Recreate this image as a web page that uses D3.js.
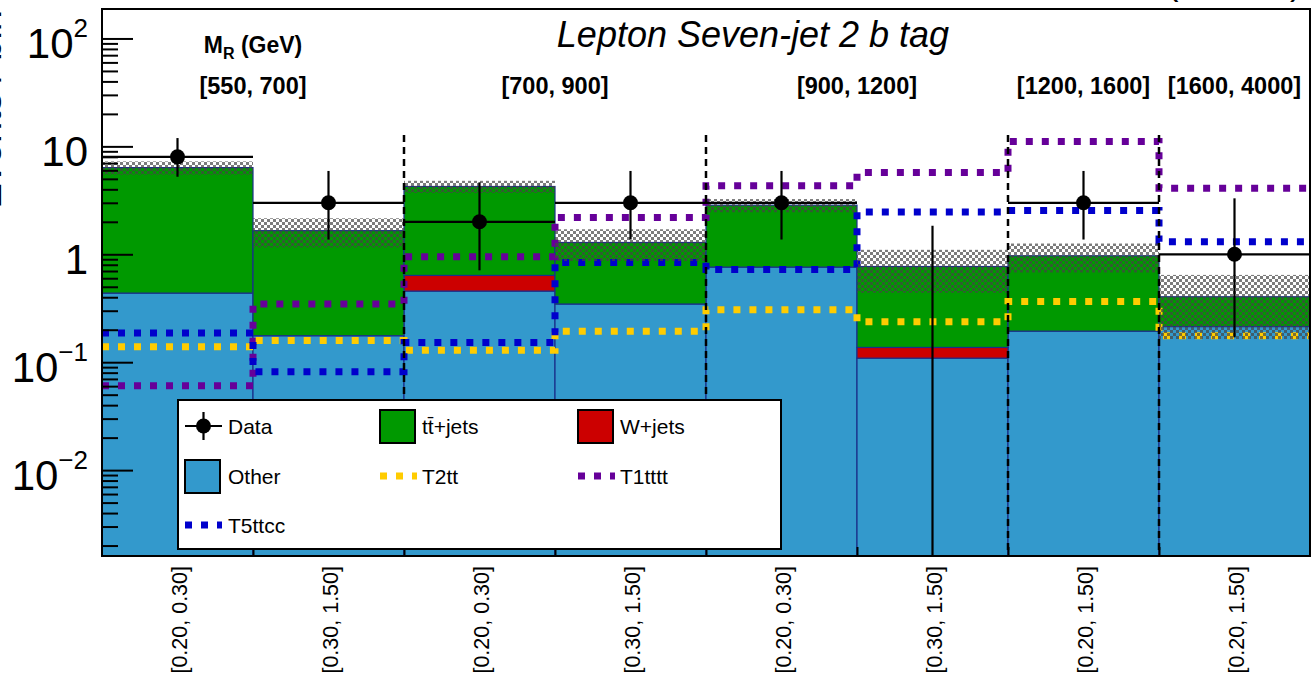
<!DOCTYPE html>
<html>
  <head>
    <meta charset="utf-8">
    <title>Lepton Seven-jet 2 b tag</title>
    <script src="https://d3js.org/d3.v7.min.js"></script>
    <style>
    body { margin: 0; background: #fff; }
    text { font-family: "Liberation Sans", Arial, Helvetica, sans-serif; }
    .frame { fill: none; stroke: #000; stroke-width: 2px; }
    .y-axis path, .x-axis path { display: none; }
    .y-axis line, .x-axis line { stroke: #000; stroke-width: 2px; }
    </style>
  </head>
  <body>
    <script>
      // ====================================
      // Data
      // ====================================
      const binLabels = ["[0.20, 0.30]", "[0.30, 1.50]", "[0.20, 0.30]", "[0.30, 1.50]",
                         "[0.20, 0.30]", "[0.30, 1.50]", "[0.20, 1.50]", "[0.20, 1.50]"];
      const mrEdges = [0, 2, 4, 6, 7, 8];          // bin index where each M_R range starts/ends
      const mrLabels = ["[550, 700]", "[700, 900]", "[900, 1200]", "[1200, 1600]", "[1600, 4000]"];

      const other = [0.437, 0.176, 0.456, 0.346, 0.761, 0.109, 0.194, 0.214];
      const wjets = [0, 0, 0.181, 0, 0, 0.028, 0, 0];
      const ttbar = [5.92, 1.48, 3.61, 0.94, 2.09, 0.633, 0.774, 0.19];
      const bkgUnc = [0.9, 0.5, 0.55, 0.42, 0.4, 0.33, 0.29, 0.24];

      const data = [8, 3, 2, 3, 3, 0, 3, 1];
      const dataHi = [11.94, 5.92, 4.64, 5.92, 5.92, 1.84, 5.92, 3.30];
      const dataLo = [5.23, 1.37, 0.71, 1.37, 1.37, 0, 1.37, 0.17];

      const t2tt = [0.139, 0.159, 0.129, 0.194, 0.306, 0.237, 0.365, 0.176];
      const t1tttt = [0.0606, 0.346, 0.948, 2.19, 4.31, 5.72, 11.1, 4.1];
      const t5ttcc = [0.186, 0.0817, 0.152, 0.84, 0.723, 2.46, 2.55, 1.31];

      const majorTicks = [0.01, 0.1, 1, 10, 100];

      // ====================================
      // Layout
      // ====================================
      const width = 1311, height = 678;
      const padL = 102, padR = 1310, padT = 9, padB = 556;
      const yMin = 0.0016, yMax = 187.5;

      const colors = {
        other: "#3399cc", wjets: "#cc0000", ttbar: "#009900",
        t2tt: "#ffcc00", t1tttt: "#660099", t5ttcc: "#0000cc", edge: "#1a2f8a"
      };

      const svg = d3.select("body").append("svg")
          .attr("width", width)
          .attr("height", height);

      const defs = svg.append("defs");
      defs.append("clipPath").attr("id", "plot-clip")
        .append("rect")
          .attr("x", padL).attr("y", padT)
          .attr("width", padR - padL).attr("height", padB - padT);

      // checkered hatch for the background uncertainty
      const pat = defs.append("pattern")
          .attr("id", "hatch")
          .attr("patternUnits", "userSpaceOnUse")
          .attr("width", 6).attr("height", 6);
      pat.append("rect").attr("x", 0).attr("y", 0).attr("width", 3).attr("height", 3)
          .attr("fill", "#444").attr("fill-opacity", 0.7);
      pat.append("rect").attr("x", 3).attr("y", 3).attr("width", 3).attr("height", 3)
          .attr("fill", "#444").attr("fill-opacity", 0.7);

      const x = d3.scaleLinear().domain([0, binLabels.length]).range([padL, padR]);
      const y = d3.scaleLog().domain([yMin, yMax]).range([padB, padT]);
      const bw = x(1) - x(0);

      const plot = svg.append("g").attr("clip-path", "url(#plot-clip)");

      // ==================
      // Stacked backgrounds
      // ==================
      const stack = binLabels.map(function(d, i) {
        return {
          i: i,
          other: other[i],
          w: other[i] + wjets[i],
          total: other[i] + wjets[i] + ttbar[i]
        };
      });

      function drawLayer(lo, hi, color) {
        plot.append("g").selectAll("rect")
          .data(stack.filter(function(d) { return hi(d) > lo(d); }))
          .enter().append("rect")
            .attr("x", function(d) { return x(d.i); })
            .attr("width", bw)
            .attr("y", function(d) { return y(hi(d)); })
            .attr("height", function(d) { return y(lo(d)) - y(hi(d)); })
            .attr("fill", color)
            .attr("stroke", colors.edge)
            .attr("stroke-width", 1.2);
      }
      drawLayer(function() { return yMin; }, function(d) { return d.other; }, colors.other);
      drawLayer(function(d) { return d.other; }, function(d) { return d.w; }, colors.wjets);
      drawLayer(function(d) { return d.w; }, function(d) { return d.total; }, colors.ttbar);

      // ==================
      // Signal step histograms
      // ==================
      const stepLine = d3.line()
          .x(function(d) { return x(d[0]); })
          .y(function(d) { return y(d[1]); })
          .curve(d3.curveStepAfter);

      function drawSignal(vals, color) {
        const pts = vals.map(function(v, i) { return [i, v]; });
        pts.push([vals.length, vals[vals.length - 1]]);
        plot.append("path")
          .attr("d", stepLine(pts))
          .attr("fill", "none")
          .attr("stroke", color)
          .attr("stroke-width", 7)
          .attr("stroke-dasharray", "7,9");
      }
      drawSignal(t1tttt, colors.t1tttt);
      drawSignal(t2tt, colors.t2tt);
      drawSignal(t5ttcc, colors.t5ttcc);

      // uncertainty band
      plot.append("g").selectAll("rect")
        .data(stack)
        .enter().append("rect")
          .attr("x", function(d) { return x(d.i); })
          .attr("width", bw)
          .attr("y", function(d) { return y(d.total + bkgUnc[d.i]); })
          .attr("height", function(d) {
            return y(Math.max(d.total - bkgUnc[d.i], yMin)) - y(d.total + bkgUnc[d.i]);
          })
          .attr("fill", "url(#hatch)");

      // ==================
      // Data points
      // ==================
      const pts = plot.append("g");
      data.forEach(function(v, i) {
        const cx = x(i + 0.5);
        pts.append("line")
          .attr("x1", cx).attr("x2", cx)
          .attr("y1", y(dataHi[i]))
          .attr("y2", dataLo[i] > 0 ? y(dataLo[i]) : padB + 5)
          .attr("stroke", "#000").attr("stroke-width", 2.2);
        if (v > 0) {
          pts.append("line")
            .attr("x1", x(i)).attr("x2", x(i + 1))
            .attr("y1", y(v)).attr("y2", y(v))
            .attr("stroke", "#000").attr("stroke-width", 2.2);
          pts.append("circle")
            .attr("cx", cx).attr("cy", y(v)).attr("r", 7.5)
            .attr("fill", "#000");
        }
      });

      // M_R separators
      plot.append("g").selectAll("line")
        .data(mrEdges.slice(1, -1))
        .enter().append("line")
          .attr("x1", function(d) { return x(d); })
          .attr("x2", function(d) { return x(d); })
          .attr("y1", 135).attr("y2", padB)
          .attr("stroke", "#000").attr("stroke-width", 2.5)
          .attr("stroke-dasharray", "7,5");

      // ==================
      // Axes
      // ==================
      const minorTicks = [];
      for (let e = -3; e <= 2; e++) {
        for (let m = 2; m <= 9; m++) {
          const v = m * Math.pow(10, e);
          if (v > yMin && v < yMax) minorTicks.push(v);
        }
      }

      svg.append("g")
          .attr("class", "y-axis")
          .attr("transform", "translate(" + padL + ",0)")
          .call(d3.axisLeft(y).tickValues(minorTicks).tickSize(-16).tickFormat(""));

      const yAxis = svg.append("g")
          .attr("class", "y-axis")
          .attr("transform", "translate(" + padL + ",0)")
          .call(d3.axisLeft(y).tickValues(majorTicks).tickSize(-31).tickPadding(14).tickFormat(""));

      yAxis.selectAll(".tick text")
          .attr("font-size", 42)
          .attr("fill", "#000")
          .attr("dy", "0.45em")
          .each(function(d) {
            const t = d3.select(this);
            const e = Math.round(Math.log10(d));
            if (e === 0) { t.text("1"); return; }
            if (e === 1) { t.text("10"); return; }
            t.append("tspan").text("10");
            t.append("tspan")
              .attr("font-size", 26)
              .attr("dy", -21)
              .text(e < 0 ? "\u2212" + (-e) : String(e));
          });

      // bin edge ticks along the bottom
      svg.append("g")
          .attr("class", "x-axis")
          .attr("transform", "translate(0," + padB + ")")
          .call(d3.axisBottom(x).tickValues(d3.range(1, binLabels.length)).tickSize(-9).tickFormat(""));

      // rotated bin labels
      svg.append("g").selectAll("text")
        .data(binLabels)
        .enter().append("text")
          .attr("transform", function(d, i) {
            return "translate(" + (x(i + 0.5) + 2) + ",566) rotate(-90)";
          })
          .attr("text-anchor", "end")
          .attr("dy", "0.35em")
          .attr("font-size", 21.5)
          .text(function(d) { return d; });

      // frame
      svg.append("rect")
          .attr("class", "frame")
          .attr("x", padL).attr("y", padT)
          .attr("width", padR - padL).attr("height", padB - padT);

      // y title (cut off at the page edge)
      svg.append("text")
          .attr("transform", "translate(1,10) rotate(-90)")
          .attr("text-anchor", "end")
          .attr("font-size", 38)
          .text("Events / bin");

      // lumi text (cut off at the top)
      svg.append("text")
          .attr("x", 1302).attr("y", -6)
          .attr("text-anchor", "end")
          .attr("font-size", 36)
          .text("2.3 fb\u207B\u00B9 (13 TeV)");

      // ==================
      // Labels
      // ==================
      svg.append("text")
          .attr("x", 753).attr("y", 47)
          .attr("text-anchor", "middle")
          .attr("font-size", 36)
          .attr("font-style", "italic")
          .text("Lepton Seven-jet 2 b tag");

      const mr = svg.append("text")
          .attr("x", x(1)).attr("y", 53)
          .attr("text-anchor", "middle")
          .attr("font-size", 23)
          .attr("font-weight", "bold");
      mr.append("tspan").text("M");
      mr.append("tspan").attr("font-size", 16).attr("dy", 6).text("R");
      mr.append("tspan").attr("dy", -6).text(" (GeV)");

      svg.append("g").selectAll("text")
        .data(mrLabels)
        .enter().append("text")
          .attr("x", function(d, i) { return x((mrEdges[i] + mrEdges[i + 1]) / 2); })
          .attr("y", 94)
          .attr("text-anchor", "middle")
          .attr("font-size", 23.5)
          .attr("font-weight", "bold")
          .text(function(d) { return d; });

      // ==================
      // Legend
      // ==================
      const legend = svg.append("g");
      legend.append("rect")
          .attr("x", 178).attr("y", 400)
          .attr("width", 603).attr("height", 149)
          .attr("fill", "#fff").attr("stroke", "#000").attr("stroke-width", 2);

      const legendItems = [
        { label: "Data", type: "data", col: 0, row: 0 },
        { label: "t\u0074\u0304+jets", type: "box", color: colors.ttbar, col: 1, row: 0 },
        { label: "W+jets", type: "box", color: colors.wjets, col: 2, row: 0 },
        { label: "Other", type: "box", color: colors.other, col: 0, row: 1 },
        { label: "T2tt", type: "line", color: colors.t2tt, col: 1, row: 1 },
        { label: "T1tttt", type: "line", color: colors.t1tttt, col: 2, row: 1 },
        { label: "T5ttcc", type: "line", color: colors.t5ttcc, col: 0, row: 2 }
      ];
      const colX = [185, 380, 578];
      const rowY = [426, 476, 525];

      legendItems.forEach(function(it) {
        const lx = colX[it.col], ly = rowY[it.row];
        const g = legend.append("g");
        if (it.type === "data") {
          g.append("line").attr("x1", lx).attr("x2", lx + 37).attr("y1", ly).attr("y2", ly)
            .attr("stroke", "#000").attr("stroke-width", 2.2);
          g.append("line").attr("x1", lx + 18.5).attr("x2", lx + 18.5).attr("y1", ly - 14).attr("y2", ly + 14)
            .attr("stroke", "#000").attr("stroke-width", 2.2);
          g.append("circle").attr("cx", lx + 18.5).attr("cy", ly).attr("r", 7.5).attr("fill", "#000");
        } else if (it.type === "box") {
          g.append("rect").attr("x", lx).attr("y", ly - 16).attr("width", 35).attr("height", 33)
            .attr("fill", it.color).attr("stroke", "#000").attr("stroke-width", 2);
        } else {
          g.append("line").attr("x1", lx).attr("x2", lx + 37).attr("y1", ly).attr("y2", ly)
            .attr("stroke", it.color).attr("stroke-width", 7).attr("stroke-dasharray", "7,9");
        }
        g.append("text")
          .attr("x", lx + (it.col === 0 ? 43 : 42)).attr("y", ly + 8)
          .attr("font-size", 21)
          .text(it.label);
      });
    </script>
  </body>
</html>
